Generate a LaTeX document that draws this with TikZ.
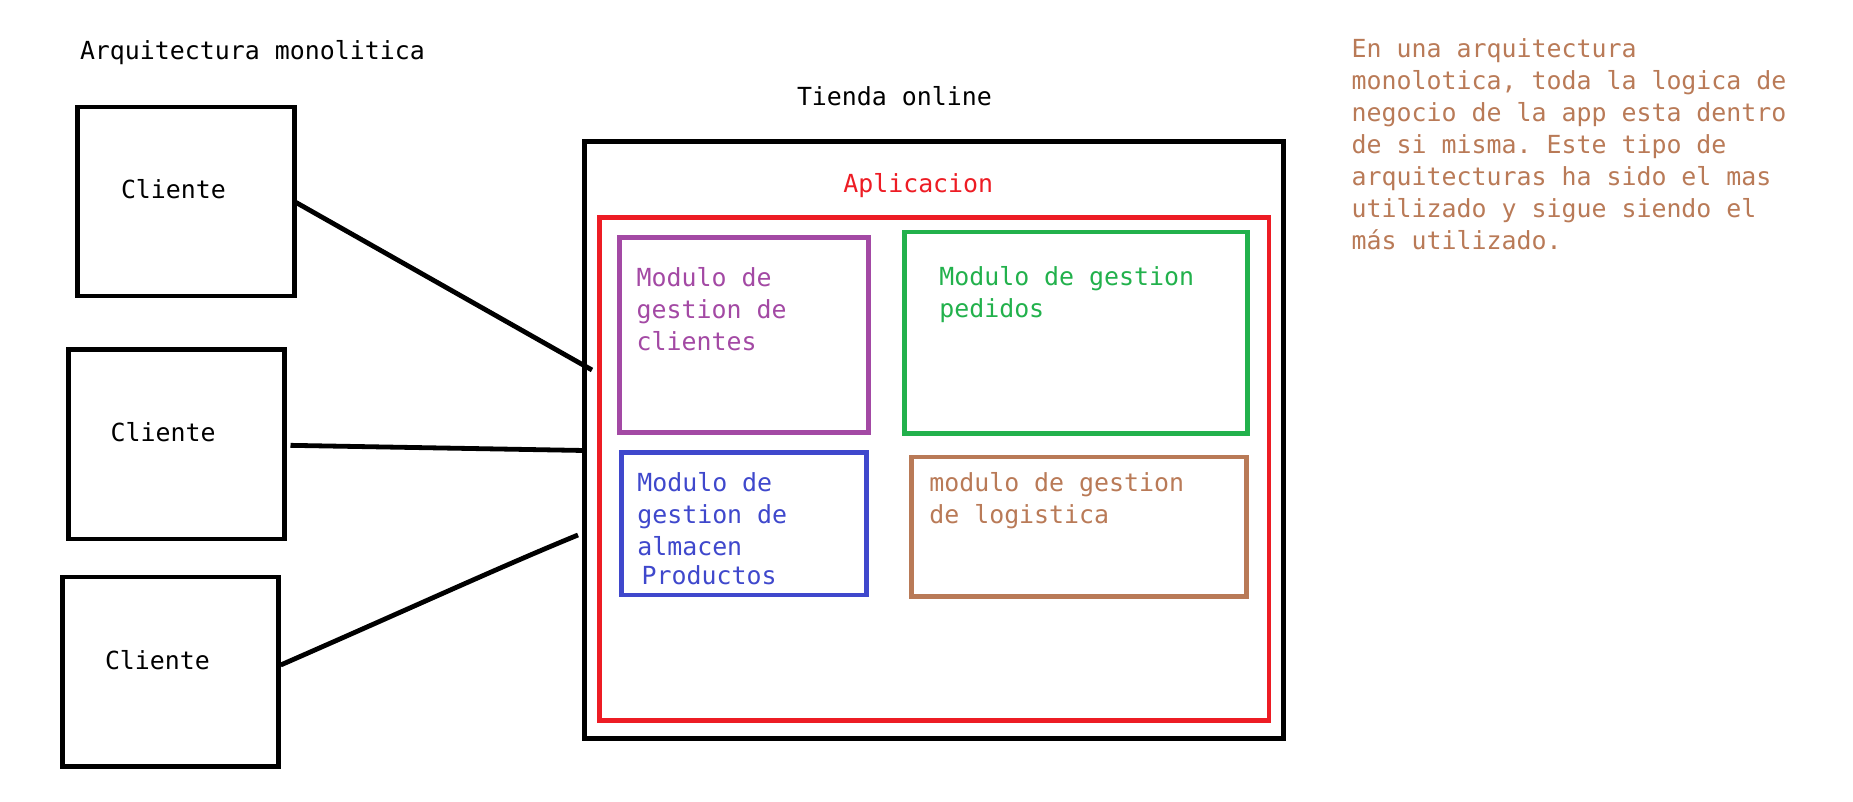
\documentclass[tikz,border=0pt]{standalone}
\usepackage{fontspec}
\setmonofont{DejaVu Sans Mono}
\definecolor{pred}{HTML}{ED1C24}
\definecolor{ppurple}{HTML}{A349A4}
\definecolor{pgreen}{HTML}{22B14C}
\definecolor{pblue}{HTML}{3F48CC}
\definecolor{pbrown}{HTML}{B97A57}
\tikzset{
  txt/.style={anchor=base west, inner sep=0pt, outer sep=0pt, align=left,
    font=\ttfamily\fontsize{24.9}{31.9}\selectfont},
  notetxt/.style={txt, font=\ttfamily\fontsize{24.9}{32.05}\selectfont},
  bbox/.style={draw=black, line width=4.6pt, inner sep=0pt, outer sep=0pt},
  mbox/.style={draw=#1, line width=4.5pt, inner sep=0pt, outer sep=0pt},
  conn/.style={draw=black, line width=4.8pt},
}
\begin{document}
\begin{tikzpicture}[x=1pt,y=-1pt]
\useasboundingbox (0,0) rectangle (1853,802);
% title
\node[txt] (title) at (80,59.3) {Arquitectura monolitica};
% clients
\node[bbox, minimum width=216.8pt, minimum height=189.2pt] (c1) at (186.1,201.6) {};
\node[bbox, minimum width=216.2pt, minimum height=189.3pt] (c2) at (176.4,444.35) {};
\node[bbox, minimum width=215.6pt, minimum height=189.2pt] (c3) at (170.5,671.6) {};
\node[txt] (c1t) at (121,199) {Cliente};
\node[txt] (c2t) at (110.7,441.7) {Cliente};
\node[txt] (c3t) at (105,669) {Cliente};
% store
\node[txt] (tiendat) at (797,105.7) {Tienda online};
\node[bbox, minimum width=698.7pt, minimum height=596.6pt] (tienda) at (933.95,440) {};
\node[txt, text=pred] (appt) at (843.3,192.1) {Aplicacion};
\node[mbox=pred, minimum width=669.5pt, minimum height=503pt] (app) at (934.25,468.8) {};
% modules
\node[mbox=ppurple, minimum width=248.6pt, minimum height=194.8pt] (mcli) at (744,334.9) {};
\node[txt, text=ppurple] (mclit) at (636.7,350.5) {Modulo de\\gestion de\\clientes};
\node[mbox=pgreen, minimum width=343.2pt, minimum height=201.5pt] (mped) at (1076.1,332.55) {};
\node[txt, text=pgreen] (mpedt) at (939.3,317.9) {Modulo de gestion\\pedidos};
\node[mbox=pblue, minimum width=244.6pt, minimum height=142.3pt] (malm) at (744,523.85) {};
\node[txt, text=pblue] (malmt) at (637.3,584) {Modulo de\\gestion de\\almacen\\[-3.4pt]\hspace{4.4pt}Productos};
\node[mbox=pbrown, minimum width=335pt, minimum height=139.4pt] (mlog) at (1079.2,526.7) {};
\node[txt, text=pbrown] (mlogt) at (929.3,523.6) {modulo de gestion\\de logistica};
% note
\node[notetxt, text=pbrown] (note) at (1351.7,250) {En una arquitectura\\monolotica, toda la logica de\\negocio de la app esta dentro\\de si misma. Este tipo de\\arquitecturas ha sido el mas\\utilizado y sigue siendo el\\más utilizado.};
% connectors
\coordinate (e1) at (592,370);
\coordinate (e2) at (584.5,450.5);
\coordinate (e3) at (578,535);
\draw[conn] (c1.east) -- (e1);
\draw[conn] ([xshift=6pt,yshift=-1pt]c2.east) -- (e2);
\draw[conn] ([xshift=2.4pt,yshift=6.6pt]c3.east) .. controls (420,604) and (500,567) .. (e3);
\end{tikzpicture}
\end{document}
